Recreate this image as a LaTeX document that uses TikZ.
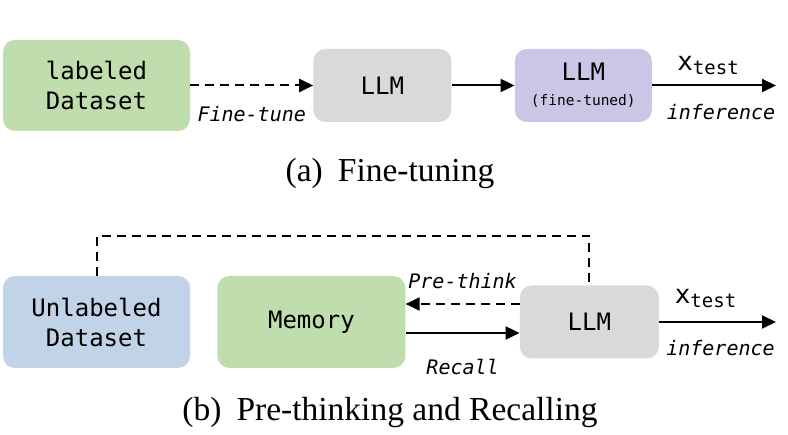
\documentclass[tikz,border=0pt]{standalone}
\usepackage{fontspec}
\setmainfont{Liberation Serif}
\setmonofont{DejaVu Sans Mono}
\usepackage{tikz}
\usetikzlibrary{positioning}
\usetikzlibrary{arrows.meta}
\definecolor{boxgreen}{RGB}{192,222,173}
\definecolor{boxgrey}{RGB}{217,217,217}
\definecolor{boxpurple}{RGB}{204,197,229}
\definecolor{boxblue}{RGB}{193,211,230}
\newcommand{\xtest}{x\raisebox{-0.3ex}{\fontsize{19}{19}\selectfont test}}
\tikzset{
    flow diagram/.style={
            x=1pt,y=-1pt,
            font=\ttfamily\fontsize{24}{30}\selectfont,
            box/.style={rounded corners=12pt, align=center, inner sep=0pt},
            arrow/.style={-{Triangle[length=14pt,width=13pt]}, line width=2pt},
            dasharrow/.style={arrow, dash pattern=on 9pt off 6pt},
            dashline/.style={line width=2pt, dash pattern=on 9pt off 6pt},
            lbl/.style={font=\ttfamily\itshape\fontsize{20}{20}\selectfont},
            xlbl/.style={font=\ttfamily\fontsize{26}{26}\selectfont},
            caption/.style={font=\rmfamily\fontsize{33.5}{34}\selectfont}
        }
    }

\begin{document}
\begin{tikzpicture}[flow diagram]
    \useasboundingbox (0,0) rectangle (788,435);

    % (a) fine-tuning
    \node [box, fill=boxgreen, minimum width=187pt, minimum height=91pt] (labeled) at (96.5,85.5) {labeled\\Dataset};
    \node [box, fill=boxgrey, minimum width=138pt, minimum height=73pt, right=123pt of labeled] (llm) {LLM};
    \node [box, fill=boxpurple, minimum width=137pt, minimum height=73pt, right=63pt of llm] (tuned) {LLM\\[-5pt]{\fontsize{14.5}{14.5}\selectfont (fine-tuned)}};
    \coordinate [right=124pt of tuned] (outa);

    \draw [dasharrow] (labeled) -- (llm) node [midway, below=16pt, lbl] {Fine-tune};
    \draw [arrow] (llm) -- (tuned);
    \draw [arrow] (tuned.east) -- (outa)
        node [midway, above=6pt, xlbl, xshift=-6pt] {\xtest}
        node [midway, below=14pt, lbl, xshift=7pt] {inference};

    \node [caption] (capa) at (390,173) {(a)\hspace{0.45em}Fine-tuning};

    % (b) pre-thinking and recalling
    \node [box, fill=boxblue, minimum width=187pt, minimum height=92pt] (unlabeled) at (96.5,322) {Unlabeled\\Dataset};
    \node [box, fill=boxgreen, minimum width=188pt, minimum height=92pt, right=27pt of unlabeled] (memory) {Memory};
    \node [box, fill=boxgrey, minimum width=139pt, minimum height=73pt, right=114pt of memory] (llmb) {LLM};
    \coordinate [right=117pt of llmb] (outb);

    \draw [dashline] (unlabeled.north) |- (llmb.north |- 0,236) -- (llmb.north);
    \draw [dasharrow] ([yshift=18pt]llmb.west) -- ([yshift=18pt]memory.east)
        node [midway, above=11pt, lbl] {Pre-think};
    \draw [arrow] ([yshift=-11pt]memory.east) -- ([yshift=-11pt]llmb.west)
        node [midway, below=22pt, lbl] {Recall};
    \draw [arrow] (llmb.east) -- (outb)
        node [midway, above=10pt, xlbl, xshift=-12pt] {\xtest}
        node [midway, below=14pt, lbl, xshift=3pt] {inference};

    \node [caption] (capb) at (390,412) {(b)\hspace{0.45em}Pre-thinking and Recalling};
\end{tikzpicture}
\end{document}
